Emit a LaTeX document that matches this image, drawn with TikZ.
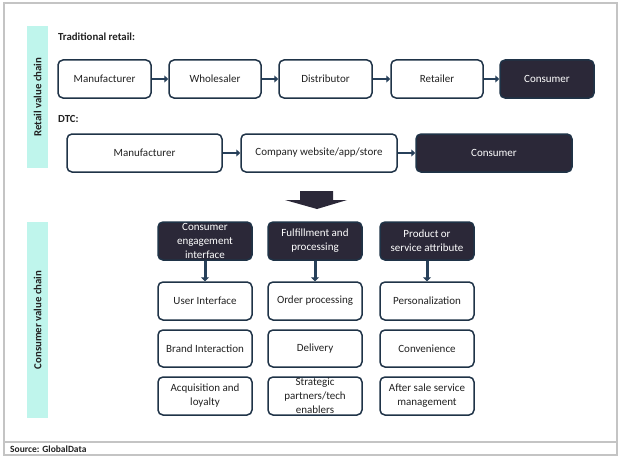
\documentclass[tikz,border=0pt]{standalone}
\usepackage{fontspec}
\setmainfont{Carlito}
\usetikzlibrary{arrows.meta}
\definecolor{navy}{HTML}{1F3347}
\definecolor{arrowc}{HTML}{27405A}
\definecolor{darkfill}{HTML}{2B2838}
\definecolor{mint}{HTML}{BFF5EC}
\definecolor{framec}{HTML}{C4C4C4}
\definecolor{txt}{HTML}{222222}
\tikzset{
  base/.style={draw=navy, line width=1.5pt, rounded corners=5pt, inner sep=0pt, align=center,
    font=\fontsize{11}{14}\selectfont},
  wbox/.style={base, fill=white, text=txt},
  dbox/.style={base, fill=darkfill, text=white},
  harrow/.style={draw=arrowc, line width=2.6pt, -{Triangle[length=4pt,width=7pt]}},
  varrow/.style={draw=arrowc, line width=3pt, -{Triangle[length=4pt,width=8pt]}},
  band/.style={fill=mint, draw=none},
  bandlbl/.style={rotate=90, font=\bfseries\fontsize{10.8}{12}\selectfont, text=txt},
  sect/.style={font=\bfseries\fontsize{10.8}{12}\selectfont, text=txt, anchor=west, inner sep=0pt}
}
\begin{document}
\begin{tikzpicture}[x=1pt,y=-1pt]
\useasboundingbox (0,0) rectangle (624,460);
\fill[white] (0,0) rectangle (624,460);
% frame
\draw[framec, line width=1.2pt] (4,3) rectangle (617,455);
\draw[framec, line width=1.2pt] (4,442) -- (617,442);
\node[font=\bfseries\fontsize{9.5}{11}\selectfont, text=txt, anchor=west, inner sep=0pt] (src) at (10,449) {Source: GlobalData};
% bands
\fill[band] (27,26) rectangle (48,168);
\node[bandlbl] (rvc) at (37.5,97) {Retail value chain};
\fill[band] (27,222) rectangle (48,418);
\node[bandlbl] (cvc) at (37.5,320) {Consumer value chain};
% section labels
\node[sect] (trad) at (58,37) {Traditional retail:};
\node[sect] (dtc) at (58,119) {DTC:};
% row 1
\node[wbox, minimum width=93pt, minimum height=38pt] (m1) at (104.5,79) {Manufacturer};
\node[wbox, minimum width=92pt, minimum height=38pt] (w1) at (215,79) {Wholesaler};
\node[wbox, minimum width=93pt, minimum height=38pt] (d1) at (325.5,79) {Distributor};
\node[wbox, minimum width=92pt, minimum height=38pt] (r1) at (437,79) {Retailer};
\node[dbox, minimum width=94pt, minimum height=38pt] (c1) at (547,79) {Consumer};
\draw[harrow] (m1) -- (w1);
\draw[harrow] (w1) -- (d1);
\draw[harrow] (d1) -- (r1);
\draw[harrow] (r1) -- (c1);
% row 2
\node[wbox, minimum width=155pt, minimum height=38pt] (m2) at (144.5,153) {Manufacturer};
\node[wbox, minimum width=156pt, minimum height=38pt] (s2) at (319,153) {Company website/app/store};
\node[dbox, minimum width=156pt, minimum height=38pt] (c2) at (494,153) {Consumer};
\draw[harrow] (m2) -- (s2);
\draw[harrow] (s2) -- (c2);
% big arrow
\fill[darkfill] (300,191) -- (333,191) -- (333,200) -- (347,200) -- (317,209) -- (285,200) -- (300,200) -- cycle;
% headers
\node[dbox, minimum width=94pt, minimum height=38pt] (h1) at (205,241) {Consumer\\engagement\\interface};
\node[dbox, minimum width=94pt, minimum height=38pt] (h2) at (315,241) {Fulfillment and\\processing};
\node[dbox, minimum width=94pt, minimum height=38pt] (h3) at (427,241) {Product or\\service attribute};
% column 1
\node[wbox, minimum width=94pt, minimum height=38pt] (a1) at (205,301) {User Interface};
\node[wbox, minimum width=94pt, minimum height=37pt] (b1) at (205,348.5) {Brand Interaction};
\node[wbox, minimum width=94pt, minimum height=38pt] (e1) at (205,396) {Acquisition and\\loyalty};
% column 2
\node[wbox, minimum width=94pt, minimum height=38pt] (a2) at (315,301) {Order processing};
\node[wbox, minimum width=94pt, minimum height=37pt] (b2) at (315,348.5) {Delivery};
\node[wbox, minimum width=94pt, minimum height=38pt] (e2) at (315,396) {Strategic\\partners/tech\\enablers};
% column 3
\node[wbox, minimum width=94pt, minimum height=38pt] (a3) at (427,301) {Personalization};
\node[wbox, minimum width=94pt, minimum height=37pt] (b3) at (427,348.5) {Convenience};
\node[wbox, minimum width=94pt, minimum height=38pt] (e3) at (427,396) {After sale service\\management};
% vertical arrows
\draw[varrow] (h1.south) -- (a1.north);
\draw[varrow] (h2.south) -- (a2.north);
\draw[varrow] (h3.south) -- (a3.north);
\end{tikzpicture}
\end{document}
